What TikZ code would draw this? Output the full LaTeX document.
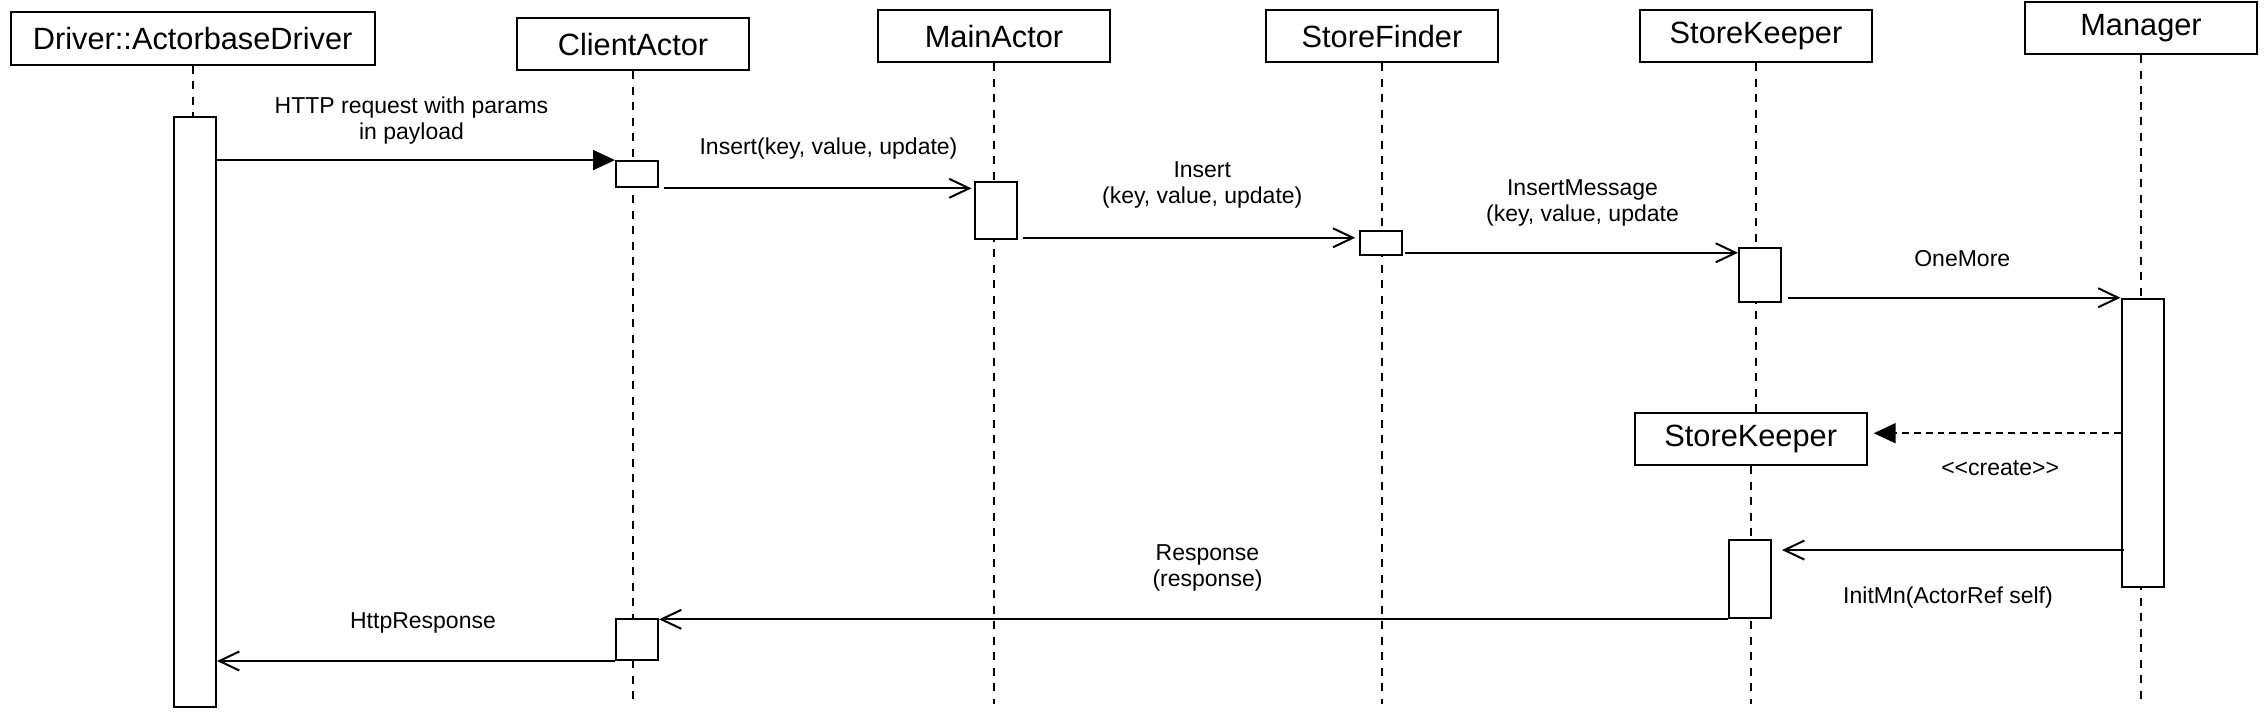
\documentclass[tikz,border=0pt]{standalone}
\usepackage{fontspec}
\setmainfont{Liberation Sans}
\usetikzlibrary{arrows.meta}

\tikzset{
actor/.style={draw,fill=white,line width=0.8pt,inner sep=0pt,minimum width=92.8pt,minimum height=20.8pt,font=\fontsize{12.3}{14}\selectfont},
bar/.style={draw,fill=white,line width=0.8pt,inner sep=0pt,minimum width=16.8pt},
life/.style={line width=0.8pt,dash pattern=on 3.2pt off 3pt},
lbl/.style={font=\fontsize{9.2}{10.5}\selectfont,align=center,inner sep=0pt},
msg/.style={line width=0.8pt,-{Straight Barb[length=8pt,width=7.6pt]}},
sync/.style={line width=0.8pt,-{Triangle[length=8.8pt,width=8pt]}},
newmsg/.style={line width=0.8pt,dash pattern=on 2.7pt off 2pt,-{Triangle[length=8.8pt,width=8pt]}},
}

\begin{document}
\begin{tikzpicture}[x=0.4pt,y=-0.4pt]
	\useasboundingbox (0,0) rectangle (2266,720);
% actors
\node[actor,minimum width=145.6pt] (drv) at (192.7,38.5) {Driver::ActorbaseDriver};
\node[actor] (cli) at (633,44.2) {ClientActor};
\node[actor] (main) at (994,36.2) {MainActor};
\node[actor] (find) at (1382,36.2) {StoreFinder};
\node[actor] (keep) at (1756,36.2) {StoreKeeper};
\node[actor] (mgr) at (2141,28.3) {Manager};
\node[actor] (keep2) at (1750.7,439.2) {StoreKeeper};
\coordinate (bot) at (0,704);
% lifelines
\draw[life](drv.south)--(drv.south|-bot);
\draw[life](cli.south)--(cli.south|-bot);
\draw[life](main.south)--(main.south|-bot);
\draw[life](find.south)--(find.south|-bot);
\draw[life](keep.south)--(keep.south|-keep2.north);
\draw[life](keep2.south)--(keep2.south|-bot);
\draw[life](mgr.south)--(mgr.south|-bot);
% activations
\node[bar,minimum height=236.1pt] (dbar) at (195,411.9) {};
\node[bar,minimum height=10.5pt] (c1) at (637,174.2) {};
\node[bar,minimum height=22.9pt] (m1) at (996,210.4) {};
\node[bar,minimum height=9.7pt] (f1) at (1381,242.9) {};
\node[bar,minimum height=21.3pt] (k1) at (1760,275) {};
\node[bar,minimum height=115.4pt] (mbar) at (2142.5,443) {};
\node[bar,minimum height=31.3pt] (k2) at (1750,579.2) {};
\node[bar,minimum height=16.4pt] (c2) at (637,639.5) {};
% messages
\draw[sync](dbar.east|-c1.north west)--(c1.north west) node[lbl,midway,xshift=-1.8pt,yshift=15.7pt](l1){HTTP request with params\\in payload};
\draw[msg,shorten >=1pt]([xshift=2pt]c1.south east)--(m1.west|-c1.south east) node[lbl,midway,xshift=3.8pt,yshift=16pt](l2){Insert(key, value, update)};
\draw[msg,shorten >=1.5pt]([xshift=2pt,yshift=0.9pt]m1.south east)--([yshift=0.9pt]f1.west|-m1.south east) node[lbl,midway,xshift=4.5pt,yshift=21pt](l3){Insert\\(key, value, update)};
\draw[msg]([xshift=0.8pt,yshift=1.3pt]f1.south east)--([yshift=1.3pt]k1.west|-f1.south east) node[lbl,midway,xshift=4.4pt,yshift=20pt](l4){InsertMessage\\(key, value, update};
\draw[msg]([xshift=2.4pt]k1.east|-mbar.north)--(mbar.north west) node[lbl,midway,xshift=3.2pt,yshift=15.6pt](l5){OneMore};
\draw[newmsg]([yshift=2.4pt]mbar.west|-keep2.east)--([xshift=2.4pt,yshift=2.4pt]keep2.east) node[lbl,midway,xshift=1.2pt,yshift=-14pt](l6){<\kern0pt<create>\kern0pt>};
\draw[msg]([xshift=1.4pt,yshift=-4.4pt]mbar.west|-k2.north)--([xshift=4pt,yshift=-4.4pt]k2.north east) node[lbl,midway,xshift=-2pt,yshift=-18.8pt](l7){InitMn(ActorRef self)};
\draw[msg](k2.south west)--(c2.north east|-k2.south west) node[lbl,midway,xshift=5.6pt,yshift=20.6pt](l8){Response\\(response)};
\draw[msg](c2.south west)--(dbar.east|-c2.south west) node[lbl,midway,xshift=2.8pt,yshift=15.2pt](l9){HttpResponse};
	\end{tikzpicture}
\end{document}
